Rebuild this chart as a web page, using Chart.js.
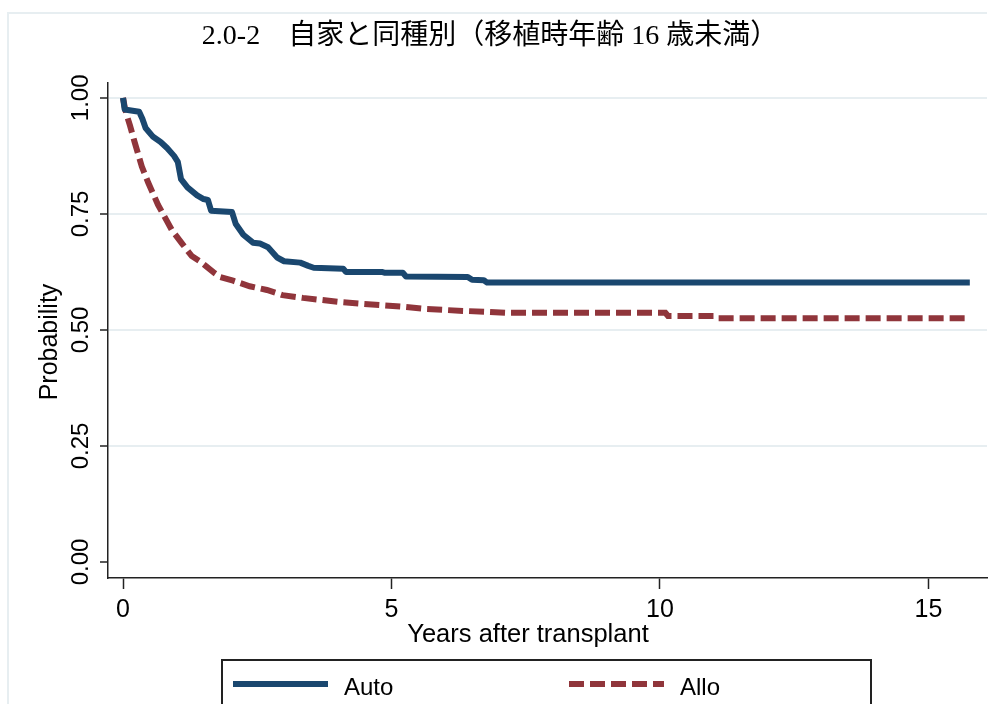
<!DOCTYPE html>
<html lang="ja">
<head>
  <meta charset="UTF-8" />
  <title>2.0-2 自家と同種別</title>
  <script src="https://cdn.jsdelivr.net/npm/chart.js"></script>
  <style>
    html, body { margin: 0; padding: 0; background: #fff; }
    #wrap { width: 996px; height: 704px; position: relative; }
  </style>
</head>
<body>
  <div id="wrap"><canvas id="kmChart"></canvas></div>

  <script>
    // Chart text
    const chartTitle = "2.0-2\u3000自家と同種別（移植時年齢 16 歳未満）";
    const xTitle = "Years after transplant";
    const yTitle = "Probability";
    const seriesNames = ["Auto", "Allo"];

    // Axis ticks
    const xTicks = [0, 5, 10, 15];
    const yTicks = [0, 0.25, 0.5, 0.75, 1];
    const yTickLabels = ["0.00", "0.25", "0.50", "0.75", "1.00"];

    // Auto: years after transplant / survival probability
    const autoYears = [0, 0.03, 0.30, 0.36, 0.42, 0.56, 0.70, 0.82, 0.95, 1.02, 1.08, 1.20, 1.38, 1.50, 1.58, 1.64,
      2.03, 2.10, 2.24, 2.42, 2.55, 2.70, 2.87, 3.00, 3.30, 3.45, 3.55, 4.10, 4.15, 4.82, 4.88, 5.21, 5.27,
      6.42, 6.50, 6.72, 6.78, 15.77];
    const autoProb = [1.0, 0.975, 0.970, 0.955, 0.935, 0.916, 0.905, 0.892, 0.875, 0.862, 0.825, 0.807, 0.790, 0.782, 0.780, 0.757,
      0.754, 0.728, 0.705, 0.688, 0.686, 0.678, 0.656, 0.648, 0.645, 0.638, 0.634, 0.632, 0.625, 0.625, 0.623, 0.623, 0.615,
      0.614, 0.608, 0.607, 0.602, 0.602];

    // Allo
    const alloYears = [0, 0.04, 0.09, 0.13, 0.22, 0.35, 0.47, 0.65, 0.91, 1.10, 1.28, 1.43, 1.71, 1.81, 2.05, 2.36,
      2.68, 2.97, 3.35, 4.04, 4.47, 5.20, 5.66, 6.33, 6.78, 7.15, 10.10, 10.15, 11.00, 11.05, 15.77];
    const alloProb = [1.0, 0.975, 0.955, 0.940, 0.903, 0.852, 0.817, 0.770, 0.715, 0.686, 0.659, 0.648, 0.622, 0.614, 0.606, 0.594,
      0.586, 0.575, 0.569, 0.560, 0.556, 0.550, 0.545, 0.541, 0.539, 0.537, 0.537, 0.530, 0.530, 0.525, 0.525];

    const NAVY = "#1a476f";
    const MAROON = "#90353b";
    const GRID = "#e7eef1";
    const SANS = '"Liberation Sans", Arial, Helvetica, sans-serif';

    const toPoints = (xs, ys) => xs.map((x, i) => ({ x: x, y: ys[i] }));

    // draws the frame, title, rotated labels and the boxed legend
    const decorPlugin = {
      id: "decor",
      beforeDraw(chart) {
        const ctx = chart.ctx;
        ctx.save();
        ctx.fillStyle = "#fff";
        ctx.fillRect(0, 0, chart.width, chart.height);
        ctx.restore();
      },
      afterDraw(chart) {
        const ctx = chart.ctx;
        const xs = chart.scales.x;
        const ys = chart.scales.y;
        ctx.save();

        // outer light frame
        ctx.strokeStyle = GRID;
        ctx.lineWidth = 2;
        ctx.beginPath();
        ctx.moveTo(8, chart.height);
        ctx.lineTo(8, 13);
        ctx.lineTo(xs.right, 13);
        ctx.stroke();

        // title
        ctx.fillStyle = "#000";
        ctx.font = '28px "Liberation Serif", "Noto Sans CJK JP", serif';
        ctx.textAlign = "center";
        ctx.textBaseline = "alphabetic";
        ctx.fillText(chartTitle, 490, 44);

        // y tick labels, rotated
        ctx.font = "24px " + SANS;
        yTicks.forEach((v, i) => {
          ctx.save();
          ctx.translate(88, ys.getPixelForValue(v));
          ctx.rotate(-Math.PI / 2);
          ctx.fillText(yTickLabels[i], 0, 0);
          ctx.restore();
        });

        // x tick labels
        ctx.font = "25px " + SANS;
        xTicks.forEach((v) => {
          ctx.fillText(String(v), xs.getPixelForValue(v), 617);
        });

        // y title
        ctx.save();
        ctx.translate(57, 342);
        ctx.rotate(-Math.PI / 2);
        ctx.fillText(yTitle, 0, 0);
        ctx.restore();

        // x title
        ctx.font = "25.5px " + SANS;
        ctx.fillText(xTitle, 528, 642);

        // legend box
        ctx.font = "24px " + SANS;
        ctx.strokeStyle = "#222";
        ctx.lineWidth = 2;
        ctx.strokeRect(222, 660, 649, 70);

        const ds = chart.data.datasets;
        const sampleX = [233, 569];
        ds.forEach((d, i) => {
          ctx.beginPath();
          ctx.strokeStyle = d.borderColor;
          ctx.lineWidth = d.borderWidth;
          ctx.setLineDash(d.borderDash || []);
          ctx.moveTo(sampleX[i], 684);
          ctx.lineTo(sampleX[i] + 95, 684);
          ctx.stroke();
          ctx.setLineDash([]);
          ctx.fillStyle = "#000";
          ctx.textAlign = "left";
          ctx.fillText(d.label, sampleX[i] + 111, 695);
        });

        ctx.restore();
      }
    };

    new Chart(document.getElementById("kmChart"), {
      type: "line",
      data: {
        datasets: [
          {
            label: seriesNames[0],
            data: toPoints(autoYears, autoProb),
            borderColor: NAVY,
            borderWidth: 6,
            borderJoinStyle: "round",
            pointRadius: 0,
            tension: 0
          },
          {
            label: seriesNames[1],
            data: toPoints(alloYears, alloProb),
            borderColor: MAROON,
            borderWidth: 6,
            borderDash: [15, 6],
            pointRadius: 0,
            tension: 0
          }
        ]
      },
      options: {
        responsive: true,
        maintainAspectRatio: false,
        animation: false,
        layout: { padding: { top: 83, right: 9, left: 0, bottom: 0 } },
        plugins: {
          legend: { display: false },
          title: { display: false },
          tooltip: { enabled: false }
        },
        scales: {
          x: {
            type: "linear",
            min: -0.28,
            max: 16.09,
            afterBuildTicks: (s) => { s.ticks = xTicks.map((v) => ({ value: v })); },
            afterFit: (s) => { s.height = 126; },
            ticks: { display: false },
            grid: { drawOnChartArea: false, tickLength: 11, tickColor: "#222", tickWidth: 1.5 },
            border: { color: "#222", width: 1.5 }
          },
          y: {
            min: -0.0345,
            max: 1.032,
            afterBuildTicks: (s) => { s.ticks = yTicks.map((v) => ({ value: v })); },
            afterFit: (s) => { s.width = 108; },
            ticks: { display: false },
            grid: {
              color: (c) => (c.tick && c.tick.value === 0 ? "rgba(0,0,0,0)" : GRID),
              lineWidth: 2,
              tickLength: 8,
              tickColor: "#222",
              tickWidth: 1.5
            },
            border: { color: "#222", width: 1.5 }
          }
        }
      },
      plugins: [decorPlugin]
    });
  </script>
</body>
</html>
